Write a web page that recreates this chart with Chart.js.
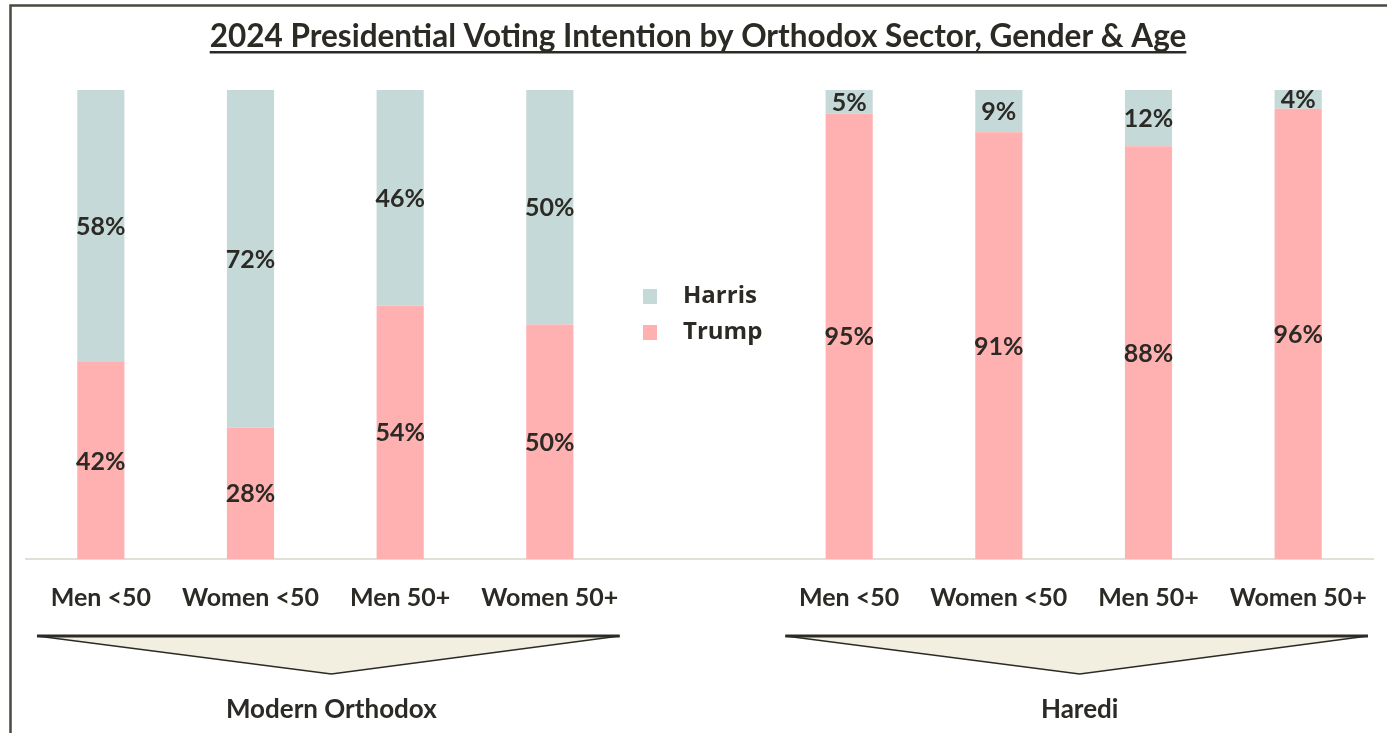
<!DOCTYPE html>
<html>
<head>
<meta charset="utf-8">
<script src="https://cdn.jsdelivr.net/npm/chart.js@4.4.1/dist/chart.umd.min.js"></script>
<style>
  html, body { margin: 0; padding: 0; background: #fff; }
  #wrap { width: 1387px; height: 733px; position: relative; }
</style>
</head>
<body>
<div id="wrap"><canvas id="c"></canvas></div>
<script>
// chart data
const title = '2024 Presidential Voting Intention by Orthodox Sector, Gender & Age';
const categories = ['Men <50', 'Women <50', 'Men 50+', 'Women 50+', '', 'Men <50', 'Women <50', 'Men 50+', 'Women 50+'];
const trump = [42, 28, 54, 50, null, 95, 91, 88, 96];
const harris = [58, 72, 46, 50, null, 5, 9, 12, 4];
const groups = ['Modern Orthodox', 'Haredi'];
const groupRanges = [[0, 3], [5, 8]];

const ink = '#2b2a25';
const font = 'Lato, "Open Sans", sans-serif';

// etiquetas dentro de las barras
const barLabels = {
  id: 'barLabels',
  afterDatasetsDraw(chart) {
    const ctx = chart.ctx;
    ctx.save();
    ctx.font = 'bold 25px ' + font;
    ctx.fillStyle = ink;
    ctx.textAlign = 'center';
    ctx.textBaseline = 'middle';
    chart.data.datasets.forEach((ds, di) => {
      chart.getDatasetMeta(di).data.forEach((bar, i) => {
        const v = ds.data[i];
        if (v == null) return;
        ctx.fillText(v + '%', bar.x, (bar.y + bar.base) / 2 + 1);
      });
    });
    ctx.restore();
  }
};

// titulo, marco, leyenda y triangulos
const decor = {
  id: 'decor',
  afterDraw(chart) {
    const ctx = chart.ctx;
    const x = chart.scales.x;
    ctx.save();

    // marco
    ctx.strokeStyle = '#4a4a42';
    ctx.lineWidth = 2.5;
    ctx.beginPath();
    ctx.moveTo(10.5, 740);
    ctx.lineTo(10.5, 5.5);
    ctx.lineTo(1400, 5.5);
    ctx.stroke();

    // titulo subrayado
    ctx.font = 'bold 31.5px ' + font;
    ctx.fillStyle = ink;
    ctx.textAlign = 'center';
    ctx.textBaseline = 'alphabetic';
    const tx = 698;
    ctx.fillText(title, tx, 47);
    const tw = ctx.measureText(title).width;
    ctx.fillRect(tx - tw / 2, 51, tw, 2.5);

    // leyenda
    const items = [
      { label: chart.data.datasets[1].label, color: chart.data.datasets[1].backgroundColor },
      { label: chart.data.datasets[0].label, color: chart.data.datasets[0].backgroundColor }
    ];
    ctx.font = 'bold 24px "Open Sans", sans-serif';
    ctx.textAlign = 'left';
    ctx.textBaseline = 'middle';
    items.forEach((it, k) => {
      const y = 296 + k * 36;
      ctx.fillStyle = it.color;
      ctx.fillRect(643, y - 7, 14, 15);
      ctx.fillStyle = ink;
      ctx.fillText(it.label, 683, y);
    });

    // triangulos de grupo
    const slot = x.getPixelForValue(1) - x.getPixelForValue(0);
    groupRanges.forEach((r, g) => {
      const l = x.getPixelForValue(r[0]) - slot / 2 + 11;
      const rr = x.getPixelForValue(r[1]) + slot / 2 - 5;
      const cx = (l + rr) / 2 + 3;
      ctx.beginPath();
      ctx.moveTo(l, 636);
      ctx.lineTo(rr, 636);
      ctx.lineTo(cx, 674);
      ctx.closePath();
      ctx.fillStyle = '#f2efe1';
      ctx.fill();
      ctx.strokeStyle = ink;
      ctx.lineWidth = 1.5;
      ctx.stroke();
      ctx.lineWidth = 3;
      ctx.beginPath();
      ctx.moveTo(l, 636);
      ctx.lineTo(rr, 636);
      ctx.stroke();

      ctx.fillStyle = ink;
      ctx.font = 'bold 26px ' + font;
      ctx.textAlign = 'center';
      ctx.textBaseline = 'middle';
      ctx.fillText(groups[g], cx, 710);
    });
    ctx.restore();
  }
};

new Chart(document.getElementById('c'), {
  type: 'bar',
  data: {
    labels: categories,
    datasets: [
      { label: 'Trump', data: trump, backgroundColor: '#ffb1b1', barPercentage: 0.315, categoryPercentage: 1 },
      { label: 'Harris', data: harris, backgroundColor: '#c5d9d8', barPercentage: 0.315, categoryPercentage: 1 }
    ]
  },
  options: {
    responsive: true,
    maintainAspectRatio: false,
    animation: false,
    layout: { padding: { top: 90, left: 26, right: 14, bottom: 0 } },
    plugins: {
      legend: { display: false },
      title: { display: false },
      tooltip: { enabled: false }
    },
    scales: {
      x: {
        stacked: true,
        grid: { display: false },
        border: { display: true, color: '#e2dfd6', width: 2 },
        ticks: {
          color: ink,
          font: { family: font, weight: 'bold', size: 25 },
          padding: 16,
          maxRotation: 0,
          autoSkip: false
        },
        afterFit: (s) => { s.height = 174; }
      },
      y: {
        stacked: true,
        display: false,
        min: 0,
        max: 100
      }
    }
  },
  plugins: [barLabels, decor]
});
</script>
</body>
</html>
